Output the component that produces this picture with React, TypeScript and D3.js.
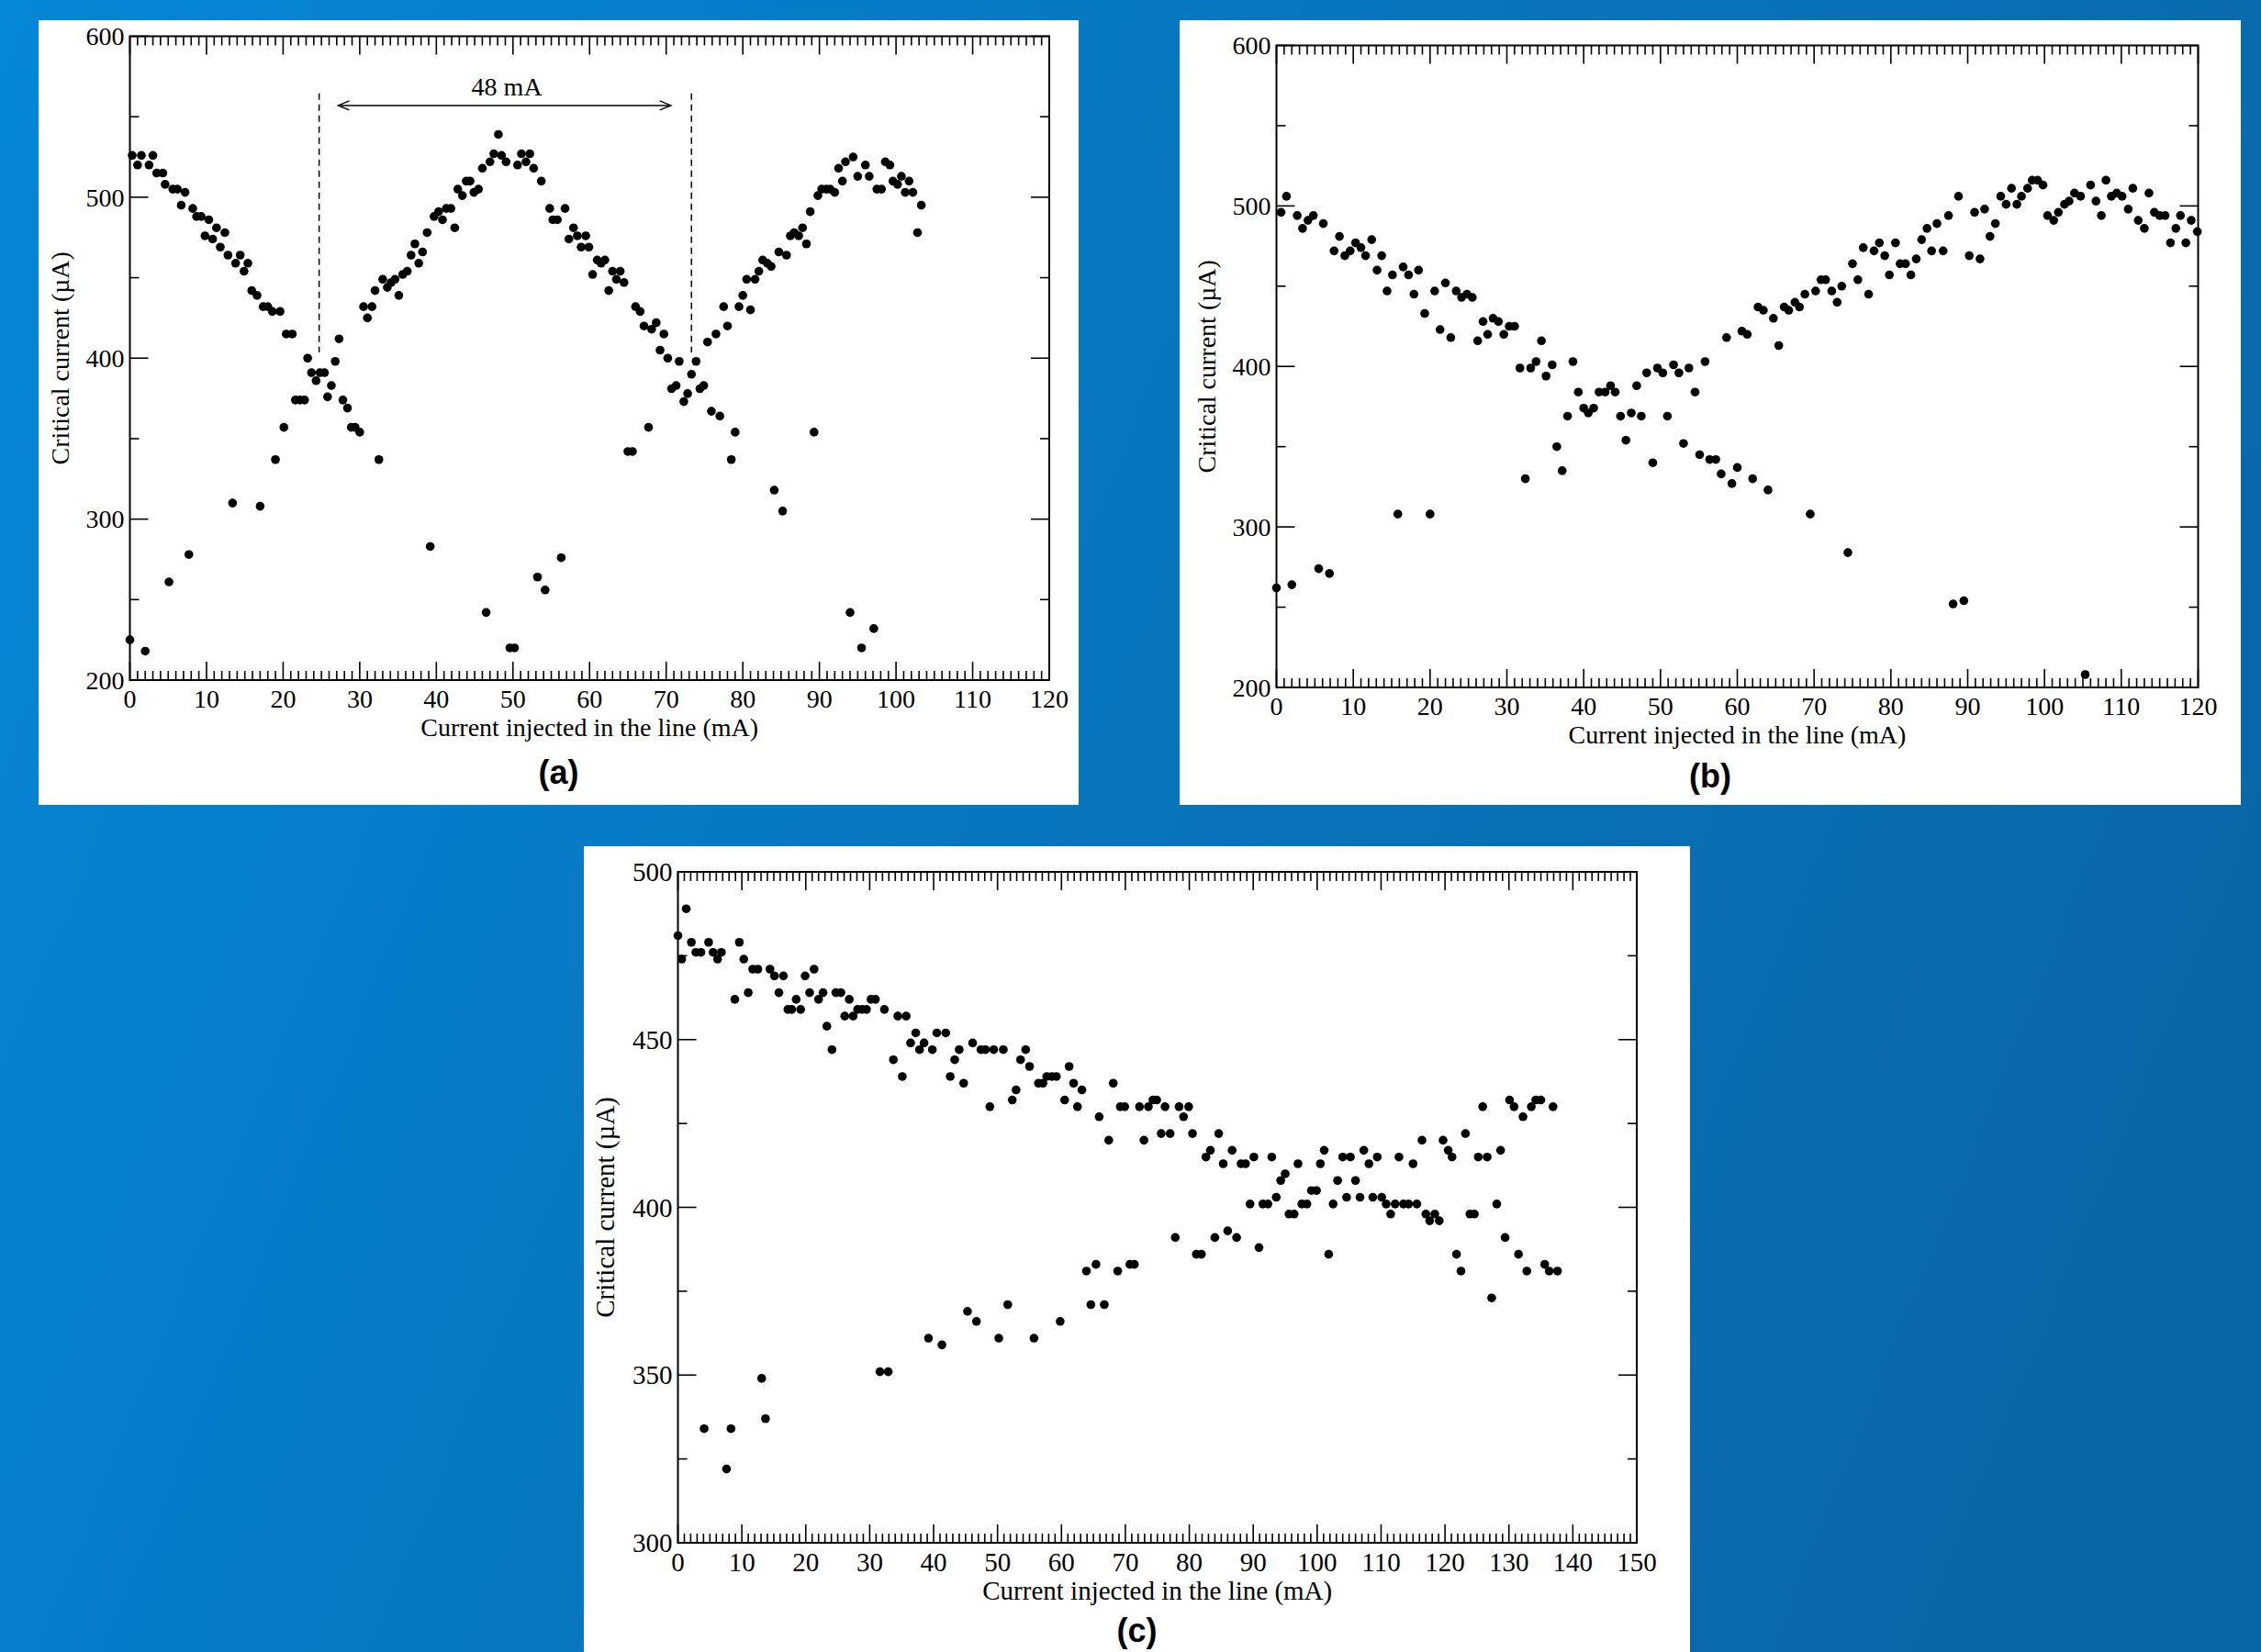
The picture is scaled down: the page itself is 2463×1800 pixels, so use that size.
import React from "react";
import * as d3 from "d3";

// ---------------- data ----------------
const aX = [0,2.0,0.3,1.0,1.5,2.5,3.0,3.5,4.3,4.6,5.6,6.2,6.7,7.2,8.2,8.7,9.3,10.3,9.8,10.8,11.3,11.8,12.4,12.8,13.8,14.4,14.9,15.4,15.9,16.6,17.4,18.0,18.6,19.6,20.4,21.2,21.6,22.2,22.8,23.2,23.7,24.3,24.8,25.4,25.8,26.3,26.8,27.3,27.8,28.4,28.9,29.4,30.0,32.5,20.1,19.0,17.0,13.4,7.7,5.1,
30.5,31.0,31.6,32.0,33.0,33.6,34.1,34.6,35.1,35.6,36.2,36.7,37.2,37.7,38.2,38.8,39.7,40.3,40.8,41.3,41.9,42.4,42.8,43.4,43.9,44.4,44.9,45.5,46.0,47.0,47.5,48.1,48.5,49.1,50.6,51.1,51.7,52.2,52.7,53.7,54.8,55.2,55.8,56.8,57.3,57.9,58.4,58.9,59.5,59.9,60.4,
39.2,46.5,49.6,50.2,53.2,54.2,56.3,
61.0,61.5,62.0,62.5,63.0,63.5,64.0,64.5,65.0,65.6,66.0,66.6,67.1,67.7,68.1,68.7,69.7,69.2,70.2,70.7,71.3,71.7,72.3,72.8,73.3,73.9,74.4,74.9,75.4,75.9,76.5,77.0,77.5,78.0,78.5,79.0,79.5,80.0,80.5,81.0,81.6,82.1,82.6,83.2,83.7,84.1,84.7,85.2,85.7,86.2,86.7,87.3,87.8,88.3,88.8,89.3,89.8,90.3,90.9,91.4,92.0,92.5,93.0,93.4,94.0,94.4,95.0,95.5,96.0,96.5,97.1,97.5,98.1,98.6,99.2,99.6,100.2,100.7,101.2,101.7,102.2,102.8,103.3];
const aY = [225,218,526,520,526,520,526,515,515,508,505,505,495,503,493,488,488,486,476,474,481,469,478,464,459,464,454,459,442,439,432,432,429,429,415,415,374,374,374,400,391,386,391,391,376,383,398,412,374,369,357,357,354,337,357,337,308,310,278,261,
432,425,432,442,449,444,447,449,439,452,454,464,471,459,466,478,488,491,486,493,493,481,505,501,510,510,503,505,518,522,527,539,526,522,520,527,522,527,518,510,493,486,486,493,474,481,476,469,476,469,452,
283,242,220,220,264,256,276,
461,459,461,442,454,449,454,447,342,342,432,429,420,357,418,422,415,405,400,381,383,398,373,378,390,398,381,383,410,367,415,364,432,420,337,354,432,439,449,430,449,454,461,459,457,318,466,305,464,476,478,476,481,471,491,354,501,505,505,505,503,518,510,522,242,525,513,220,520,513,232,505,505,522,520,510,508,513,503,510,503,478,495];

const bX = [0,2.0,5.5,6.9,0.6,1.3,2.7,3.4,4.1,4.8,6.1,7.5,8.2,8.9,9.6,10.3,11.0,11.6,12.4,13.1,13.7,14.4,15.1,15.8,16.5,17.2,17.9,18.5,19.3,20.0,20.6,21.3,22.0,22.7,23.4,24.1,24.8,25.5,26.2,26.9,27.5,28.2,28.9,29.6,30.3,31.0,31.7,32.4,33.1,33.8,34.5,35.1,35.9,36.5,37.2,37.9,38.6,39.3,40.0,40.6,41.3,42.0,42.8,43.5,44.1,44.8,45.5,46.2,46.9,47.5,48.2,49.0,49.6,50.3,50.9,51.7,52.4,53.0,53.7,54.5,55.1,55.8,56.4,57.2,57.9,58.6,59.3,60.0,60.6,
61.3,62.0,62.7,63.4,64.0,64.7,65.4,66.1,66.7,67.5,68.1,68.8,69.5,70.2,70.9,71.5,72.3,73.0,73.6,74.4,75.0,75.7,76.4,77.1,77.8,78.5,79.2,79.8,80.6,81.2,81.9,82.6,83.3,84.0,84.7,85.3,86.0,86.8,87.5,88.1,88.8,89.5,90.2,90.9,91.6,92.2,92.9,93.6,94.3,95.0,95.7,96.4,97.0,97.8,98.4,99.1,99.8,100.4,101.2,101.8,102.6,103.2,103.9,104.7,105.3,106.0,106.7,107.4,108.0,108.7,109.4,110.1,110.9,111.5,112.2,113.0,113.6,114.3,115.0,115.7,116.4,117.1,117.7,118.4,119.1,119.9];
const bY = [262,264,274,271,496,506,494,486,491,494,489,472,481,469,472,477,474,469,479,460,469,447,457,308,462,457,445,460,433,308,447,423,452,418,447,443,445,443,416,428,420,430,428,420,425,425,399,330,399,403,416,394,401,350,335,369,403,384,374,371,374,384,384,388,384,369,354,371,388,369,396,340,399,396,369,401,396,352,399,384,345,403,342,342,333,418,327,337,422,
420,330,437,435,323,430,413,437,435,440,437,445,308,447,454,454,447,440,450,284,464,454,474,445,472,477,469,457,477,464,464,457,467,479,486,472,489,472,494,252,506,254,469,496,467,498,481,489,506,501,511,501,506,511,516,516,513,494,491,496,501,503,508,506,208,513,503,494,516,506,508,506,498,511,491,486,508,496,494,494,477,486,494,477,491,484];

const cX = [0,0.6,1.3,2.1,2.8,3.6,4.1,4.8,5.5,6.2,6.8,7.6,8.3,8.9,9.6,10.3,11.0,11.7,12.5,13.1,13.7,14.4,15.1,15.8,16.5,17.2,17.8,18.5,19.2,19.9,20.6,21.3,22.0,22.7,23.3,24.1,24.7,25.5,26.1,26.8,27.4,28.1,28.8,29.5,30.2,30.9,31.6,32.9,32.3,33.7,34.4,35.1,35.7,36.4,37.2,37.8,38.5,39.2,39.8,40.5,41.3,41.9,42.6,43.3,44.0,44.7,45.3,46.1,46.7,47.4,48.1,48.8,49.4,50.2,50.9,51.6,52.3,52.9,53.6,54.4,55.0,55.7,56.4,57.1,57.7,58.5,59.2,59.8,60.5,61.2,61.9,62.5,63.2,63.9,64.6,65.4,65.9,66.7,67.4,68.1,68.8,69.2,69.9,70.7,71.4,72.2,72.9,73.6,74.3,74.9,75.6,76.2,
77.0,77.8,78.4,79.1,79.9,80.5,81.1,81.9,82.6,83.3,84.0,84.6,85.3,86.0,86.7,87.4,88.1,88.8,89.5,90.1,90.9,91.5,92.3,92.9,93.6,94.3,95.0,95.6,96.4,97.0,97.6,98.4,99.1,99.9,100.5,101.1,101.8,102.5,103.2,104.0,104.6,105.2,106.0,106.7,107.3,108.1,108.7,109.4,110.1,110.8,111.5,112.2,112.8,113.5,114.3,115.0,115.6,116.4,117.0,117.6,118.4,119.1,119.7,120.5,121.1,121.8,122.5,123.2,123.9,124.6,125.2,125.9,126.6,127.3,128.1,128.7,129.4,130.1,130.8,131.5,132.2,132.8,133.5,134.2,135.0,135.6,136.3,136.9,137.6];
const cY = [481,474,489,479,476,476,334,479,476,474,476,322,334,462,479,474,464,471,471,349,337,471,469,464,469,459,459,462,459,469,464,471,462,464,454,447,464,464,457,462,457,459,459,459,462,462,351,351,459,444,457,439,457,449,452,447,449,361,447,452,359,452,439,444,447,437,369,449,366,447,447,430,447,361,447,371,432,435,444,447,442,361,437,437,439,439,439,366,432,442,437,430,435,381,371,383,427,371,420,437,381,430,430,383,383,430,420,430,432,432,422,430,
422,391,430,427,430,422,386,386,415,417,391,422,413,393,417,391,413,413,401,415,388,401,401,415,403,408,410,398,398,413,401,401,405,405,413,417,386,401,408,415,403,415,408,403,417,413,403,415,403,401,398,401,415,401,401,413,401,420,398,396,398,396,420,417,415,386,381,422,398,398,415,430,415,373,401,417,391,432,430,386,427,381,430,432,432,383,381,430,381];

const aXTicks = [0,10,20,30,40,50,60,70,80,90,100,110,120];
const bXTicks = [0,10,20,30,40,50,60,70,80,90,100,110,120];
const cXTicks = [0,10,20,30,40,50,60,70,80,90,100,110,120,130,140,150];
const abYTicks = [200,300,400,500,600];
const cYTicks = [300,350,400,450,500];
const spanMarks = [24.7, 73.3]; // dashed guide lines in (a)
const spanLabel = "48 mA";
const xTitle = "Current injected in the line (mA)";
const yTitle = "Critical current (\u00b5A)";

// ---------------- drawing ----------------
const SERIF = "'Liberation Serif', 'DejaVu Serif', serif";
const SANS = "'Liberation Sans', Arial, sans-serif";

type PanelProps = {
  box: { x: number; y: number; w: number; h: number };
  plot: { l: number; r: number; t: number; b: number };
  xDomain: [number, number];
  yDomain: [number, number];
  xTicks: number[];
  yTicks: number[];
  yMinorStep: number;
  xs: number[];
  ys: number[];
  letter: string;
  letterY: number;
  yTitleOff: number;
  xLabOff: number;
  xTitleOff: number;
  fs: number;
  annot?: boolean;
};

function Panel(p: PanelProps) {
  const x = d3.scaleLinear().domain(p.xDomain).range([p.plot.l, p.plot.r]);
  const y = d3.scaleLinear().domain(p.yDomain).range([p.plot.b, p.plot.t]);
  const xMinor = d3.range(p.xDomain[0], p.xDomain[1] + 0.001, 1);
  const yMinor = d3.range(p.yDomain[0], p.yDomain[1] + 0.001, p.yMinorStep);
  const MAJ = 20, MIN = 10;
  const ticks: JSX.Element[] = [];
  xMinor.forEach((v, i) => {
    const len = p.xTicks.includes(Math.round(v)) ? MAJ : MIN;
    const px = x(v);
    ticks.push(<line key={"xb" + i} x1={px} x2={px} y1={p.plot.b} y2={p.plot.b - len} />);
    ticks.push(<line key={"xt" + i} x1={px} x2={px} y1={p.plot.t} y2={p.plot.t + len} />);
  });
  yMinor.forEach((v, i) => {
    const len = p.yTicks.includes(Math.round(v)) ? MAJ : MIN;
    const py = y(v);
    ticks.push(<line key={"yl" + i} x1={p.plot.l} x2={p.plot.l + len} y1={py} y2={py} />);
    ticks.push(<line key={"yr" + i} x1={p.plot.r} x2={p.plot.r - len} y1={py} y2={py} />);
  });
  const cx = (p.plot.l + p.plot.r) / 2;
  const cy = (p.plot.t + p.plot.b) / 2;
  const boxCx = p.box.x + p.box.w / 2;
  return (
    <g>
      <rect x={p.box.x} y={p.box.y} width={p.box.w} height={p.box.h} fill="#ffffff" />
      <g stroke="#000" strokeWidth={1.6}>{ticks}</g>
      <rect x={p.plot.l} y={p.plot.t} width={p.plot.r - p.plot.l} height={p.plot.b - p.plot.t}
        fill="none" stroke="#000" strokeWidth={2} />
      <g fontFamily={SERIF} fontSize={p.fs} fill="#000">
        {p.xTicks.map((v) => (
          <text key={"xl" + v} x={x(v)} y={p.plot.b + p.xLabOff} textAnchor="middle">{v}</text>
        ))}
        {p.yTicks.map((v) => (
          <text key={"yl" + v} x={p.plot.l - 6} y={y(v)} dy="0.35em" textAnchor="end">{v}</text>
        ))}
        <text x={cx} y={p.plot.b + p.xTitleOff} textAnchor="middle">{xTitle}</text>
        <text transform={`translate(${p.plot.l - p.yTitleOff},${cy}) rotate(-90)`} textAnchor="middle">{yTitle}</text>
      </g>
      {p.annot && (
        <g stroke="#000" strokeWidth={1.5} fill="none">
          {spanMarks.map((m) => (
            <line key={"d" + m} x1={x(m)} x2={x(m)} y1={y(564.5)} y2={y(403.5)} strokeDasharray="7 5" />
          ))}
          <line x1={x(27.2)} x2={x(70.6)} y1={y(557)} y2={y(557)} />
          <path d={`M${x(27.2) + 12},${y(557) - 5} L${x(27.2)},${y(557)} L${x(27.2) + 12},${y(557) + 5}`} />
          <path d={`M${x(70.6) - 12},${y(557) - 5} L${x(70.6)},${y(557)} L${x(70.6) - 12},${y(557) + 5}`} />
          <text x={x(49.2)} y={y(563.5)} textAnchor="middle" fontFamily={SERIF} fontSize={p.fs} fill="#000" stroke="none">{spanLabel}</text>
        </g>
      )}
      <g fill="#000">
        {p.xs.map((v, i) => (
          <circle key={"p" + i} cx={x(v)} cy={y(p.ys[i])} r={4.8} />
        ))}
      </g>
      <text x={boxCx} y={p.letterY} textAnchor="middle" fontFamily={SANS} fontWeight="bold" fontSize={36} fill="#000">{p.letter}</text>
    </g>
  );
}

export default function App() {
  const W = 2463, H = 1800;
  return (
    <svg width={W} height={H} viewBox={`0 0 ${W} ${H}`}
      style={{ position: "absolute", left: 0, top: 0, display: "block" }}>
      <defs>
        <linearGradient id="bg" gradientUnits="userSpaceOnUse" x1={0} y1={0} x2={W} y2={1000}>
          <stop offset="0" stopColor="#0586d6" />
          <stop offset="1" stopColor="#0a66a7" />
        </linearGradient>
      </defs>
      <rect x={0} y={0} width={W} height={H} fill="url(#bg)" />
      <Panel box={{ x: 42, y: 22, w: 1133, h: 855 }} plot={{ l: 141.5, r: 1143, t: 39.5, b: 741 }}
        xDomain={[0, 120]} yDomain={[200, 600]} xTicks={aXTicks} yTicks={abYTicks} yMinorStep={50}
        xs={aX} ys={aY} letter="(a)" letterY={854} yTitleOff={67} xLabOff={30} xTitleOff={61} fs={28} annot />
      <Panel box={{ x: 1285, y: 22, w: 1156, h: 855 }} plot={{ l: 1390.5, r: 2394.5, t: 49.5, b: 749 }}
        xDomain={[0, 120]} yDomain={[200, 600]} xTicks={bXTicks} yTicks={abYTicks} yMinorStep={50}
        xs={bX} ys={bY} letter="(b)" letterY={858} yTitleOff={67} xLabOff={30} xTitleOff={61} fs={28} />
      <Panel box={{ x: 636, y: 922, w: 1205, h: 878 }} plot={{ l: 738.5, r: 1783, t: 950, b: 1681 }}
        xDomain={[0, 150]} yDomain={[300, 500]} xTicks={cXTicks} yTicks={cYTicks} yMinorStep={25}
        xs={cX} ys={cY} letter="(c)" letterY={1789} yTitleOff={70} xLabOff={31} xTitleOff={62} fs={29} />
    </svg>
  );
}
